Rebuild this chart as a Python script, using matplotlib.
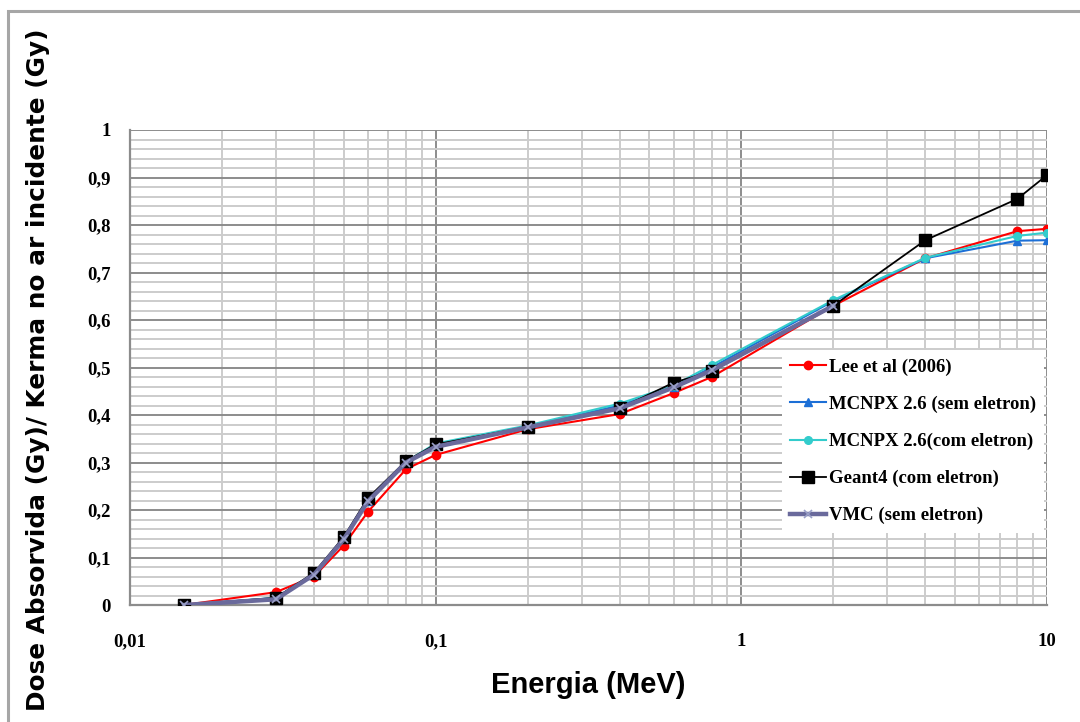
import matplotlib
matplotlib.use("Agg")
import matplotlib.pyplot as plt
from matplotlib.ticker import FixedLocator, NullFormatter, MultipleLocator
from matplotlib.patches import Rectangle

# ---- data ----
energy = [0.015, 0.03, 0.04, 0.05, 0.06, 0.08, 0.1, 0.2, 0.4, 0.6, 0.8, 2, 4, 8, 10]
lee = [0.0, 0.027, 0.06, 0.125, 0.196, 0.286, 0.316, 0.37, 0.402, 0.446, 0.48, 0.63, 0.73, 0.787, 0.792]
mcnpx_sem = [0.0, 0.015, 0.065, 0.14, 0.22, 0.30, 0.336, 0.376, 0.42, 0.46, 0.50, 0.64, 0.73, 0.767, 0.768]
mcnpx_com = [0.0, 0.015, 0.066, 0.141, 0.221, 0.302, 0.34, 0.378, 0.424, 0.462, 0.505, 0.642, 0.731, 0.777, 0.784]
geant4 = [0.0, 0.015, 0.068, 0.143, 0.225, 0.303, 0.338, 0.375, 0.414, 0.468, 0.492, 0.63, 0.768, 0.855, 0.905]
energy_vmc = [0.015, 0.03, 0.04, 0.05, 0.06, 0.08, 0.1, 0.2, 0.4, 0.6, 0.8, 2]
vmc = [0.0, 0.012, 0.064, 0.138, 0.218, 0.30, 0.333, 0.374, 0.414, 0.458, 0.494, 0.63]

labels = ["Lee et al (2006)", "MCNPX 2.6 (sem eletron)", "MCNPX 2.6(com eletron)",
          "Geant4 (com eletron)", "VMC (sem eletron)"]
x_ticks = [0.01, 0.1, 1, 10]
x_ticklabels = ["0,01", "0,1", "1", "10"]
y_ticks = [0, 0.1, 0.2, 0.3, 0.4, 0.5, 0.6, 0.7, 0.8, 0.9, 1.0]
y_ticklabels = ["0", "0,1", "0,2", "0,3", "0,4", "0,5", "0,6", "0,7", "0,8", "0,9", "1"]

W, H = 1080, 722
fig = plt.figure(figsize=(W / 100, H / 100), dpi=100)
fig.patch.set_facecolor("white")

# outer chart frame
fig.patches.append(Rectangle((8 / W, -0.05), 1.1, 1 - 11 / H + 0.05, transform=fig.transFigure,
                             fill=False, edgecolor="#a6a6a6", linewidth=2.2, zorder=0))

L, R, T, B = 130, 1047, 130, 605
ax = fig.add_axes([L / W, 1 - B / H, (R - L) / W, (B - T) / H])
ax.set_xscale("log")
ax.set_xlim(0.01, 10)
ax.set_ylim(0, 1)

ax.xaxis.set_major_locator(FixedLocator(x_ticks))
minors = [m * 10.0 ** e for e in (-2, -1, 0) for m in range(2, 10)]
ax.xaxis.set_minor_locator(FixedLocator(minors))
ax.xaxis.set_minor_formatter(NullFormatter())
ax.set_xticklabels(x_ticklabels)
ax.yaxis.set_major_locator(FixedLocator(y_ticks))
ax.set_yticklabels(y_ticklabels)
ax.yaxis.set_minor_locator(MultipleLocator(0.02))

ax.grid(which="major", color="#8c8c8c", linewidth=1.4)
ax.grid(which="minor", color="#cccccc", linewidth=1.4)
ax.set_axisbelow(True)
for s in ("top", "right"):
    ax.spines[s].set_visible(False)
for s in ("left", "bottom"):
    ax.spines[s].set_color("#8c8c8c")
    ax.spines[s].set_linewidth(1.6)
ax.tick_params(which="both", length=0)
ax.tick_params(axis="x", pad=20)
ax.tick_params(axis="y", pad=14)

for lbl in ax.get_xticklabels() + ax.get_yticklabels():
    lbl.set_fontfamily("Liberation Serif")
    lbl.set_fontweight("bold")
    lbl.set_fontsize(13.5)

ax.plot(energy, lee, color="#ff0000", lw=1.5, marker="o", ms=6, label=labels[0], zorder=3)
ax.plot(energy, mcnpx_sem, color="#1c6fd6", lw=1.5, marker="^", ms=6, label=labels[1], zorder=3)
ax.plot(energy, mcnpx_com, color="#33cccc", lw=1.5, marker="o", ms=5.5, label=labels[2], zorder=3)
ax.plot(energy, geant4, color="#000000", lw=1.3, marker="s", ms=8.5, label=labels[3], zorder=3)
ax.plot(energy_vmc, vmc, color="#6a6a9c", lw=3.2, marker="x", ms=6, mew=1.2,
        mec="#9aa0c8", label=labels[4], zorder=4)

leg = ax.legend(loc="upper left", bbox_to_anchor=(782 / W, 1 - 350 / H),
                bbox_transform=fig.transFigure, frameon=True, fancybox=False,
                edgecolor="none", facecolor="white", framealpha=1,
                prop=dict(family="Liberation Serif", weight="bold", size=13.5),
                handlelength=1.9, handletextpad=0.15, labelspacing=1.06,
                borderpad=0.45, borderaxespad=0)
leg.set_zorder(5)

ax.set_xlabel("Energia (MeV)", family=["Liberation Sans Narrow", "Liberation Sans"],
              weight="bold", size=21, labelpad=15)
fig.text(38 / W, 1 - 370 / H, "Dose Absorvida (Gy)/ Kerma no ar incidente (Gy)",
         rotation=90, ha="center", va="center", family="DejaVu Sans", weight="bold", size=17.8)

fig.savefig("out.png", dpi=100)
